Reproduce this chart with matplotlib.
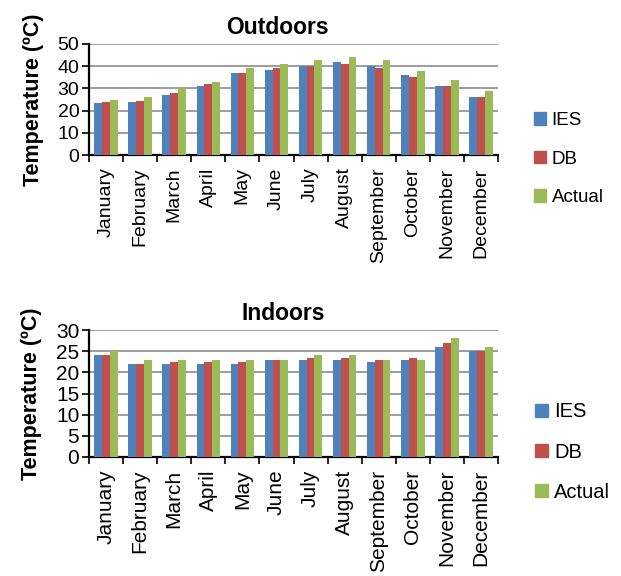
import matplotlib.pyplot as plt
import numpy as np
from matplotlib.patches import Patch

plt.rcParams['font.family'] = ['Liberation Sans', 'DejaVu Sans']

months = ['January', 'February', 'March', 'April', 'May', 'June', 'July',
          'August', 'September', 'October', 'November', 'December']
series = ['IES', 'DB', 'Actual']
colors = ['#4F81BD', '#C0504D', '#9BBB59']

# outdoor temperatures
out_ies = [23.5, 24, 27, 31, 37, 38.5, 40, 42, 40, 36, 31, 26]
out_db = [24, 24.5, 28, 32, 37, 39, 40, 41, 39, 35, 31, 26]
out_actual = [25, 26, 30, 33, 39, 41, 43, 44, 43, 38, 34, 29]

# indoor temperatures
in_ies = [24, 22, 22, 22, 22, 23, 23, 23, 22.5, 23, 26, 25]
in_db = [24, 22, 22.5, 22.5, 22.5, 23, 23.5, 23.5, 23, 23.5, 27, 25]
in_actual = [25, 23, 23, 23, 23, 23, 24, 24, 23, 23, 28, 26]

fig = plt.figure(figsize=(6.21, 5.76), dpi=100)
ax1 = fig.add_axes([89/621, 1-155/576, 409/621, 111/576])
ax2 = fig.add_axes([89/621, 1-457/576, 409/621, 127/576])


def draw(ax, data, ymax, step, title, title_x, tfs, lfs, ls, leg_y):
    x = np.arange(len(months))
    w = 0.23
    for i, (vals, c) in enumerate(zip(data, colors)):
        ax.bar(x + (i - 1) * w, vals, w, color=c, zorder=3)
    ax.set_xlim(-0.5, len(months) - 0.5)
    ax.set_ylim(0, ymax)
    ax.set_yticks(np.arange(0, ymax + 1, step))
    ax.yaxis.grid(True, color='#8c8c8c', linewidth=1.2, zorder=0)
    ax.set_xticks(np.arange(-0.5, len(months), 1))
    ax.set_xticklabels([])
    ax.set_xticks(x, minor=True)
    ax.set_xticklabels(months, minor=True, rotation=90, fontsize=tfs)
    ax.tick_params(axis='x', which='major', length=5, width=1.2, direction='out')
    ax.tick_params(axis='x', which='minor', length=0, pad=9)
    ax.tick_params(axis='y', length=5, width=1.2, labelsize=tfs, pad=2)
    for s in ['top', 'right']:
        ax.spines[s].set_visible(False)
    for s in ['left', 'bottom']:
        ax.spines[s].set_linewidth(1.6)
    ax.set_title(title, x=title_x, fontsize=16.5, fontweight='bold', pad=7)
    ax.set_ylabel('Temperature (ºC)', fontsize=15.5, fontweight='bold', labelpad=10)
    handles = [Patch(color=c) for c in colors]
    fig.legend(handles, series, loc='center left', bbox_to_anchor=(517/621, leg_y),
               frameon=False, fontsize=lfs, handlelength=0.65, handleheight=0.65,
               handletextpad=0.3, labelspacing=ls)


draw(ax1, [out_ies, out_db, out_actual], 50, 10, 'Outdoors', 0.46, 14, 13.5, 1.15, 1-159/576)
draw(ax2, [in_ies, in_db, in_actual], 30, 5, 'Indoors', 0.474, 15, 14.5, 1.05, 1-452/576)

fig.savefig('out.png', dpi=100)
